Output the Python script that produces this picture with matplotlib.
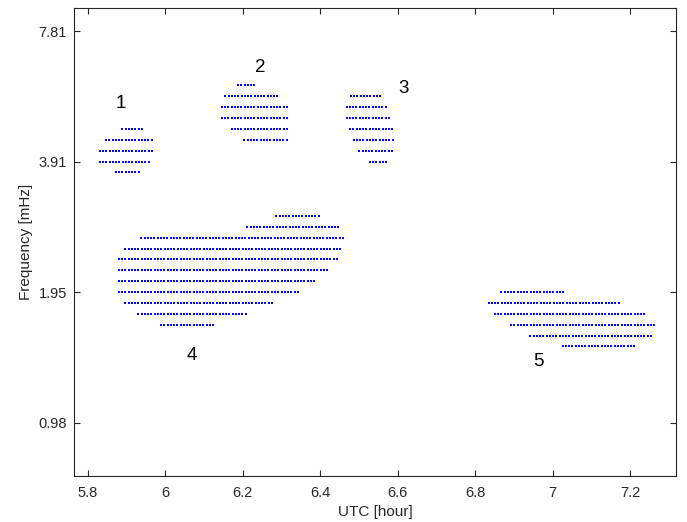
import numpy as np
import matplotlib
matplotlib.use("Agg")
import matplotlib.pyplot as plt
from matplotlib.ticker import FixedLocator, FixedFormatter, NullLocator

plt.rcParams['font.family'] = ['Liberation Sans', 'DejaVu Sans']

# time step between detections [hour]
step = 0.0084

# each cluster: row frequencies [mHz], row start / end times [hour]
c1_freq = [4.6453, 4.3846, 4.1385, 3.9063, 3.6870]
c1_start = [5.889, 5.847, 5.831, 5.831, 5.872]
c1_end = [5.942, 5.961, 5.969, 5.961, 5.928]

c2_freq = [5.8528, 5.5243, 5.2142, 4.9216, 4.6453, 4.3846]
c2_start = [6.188, 6.155, 6.146, 6.146, 6.171, 6.204]
c2_end = [6.227, 6.293, 6.310, 6.318, 6.318, 6.310]

c3_freq = [5.5243, 5.2142, 4.9216, 4.6453, 4.3846, 4.1385, 3.9063]
c3_start = [6.479, 6.468, 6.468, 6.477, 6.486, 6.501, 6.528]
c3_end = [6.558, 6.566, 6.580, 6.589, 6.589, 6.589, 6.573]

c4_freq = [2.9264, 2.7621, 2.6071, 2.4608, 2.3227, 2.1923, 2.0693,
           1.9531, 1.8435, 1.7401, 1.6424]
c4_start = [6.287, 6.212, 5.938, 5.897, 5.880, 5.880, 5.880,
            5.880, 5.897, 5.930, 5.989]
c4_end = [6.392, 6.450, 6.458, 6.450, 6.442, 6.417, 6.383,
          6.343, 6.276, 6.210, 6.126]

c5_freq = [1.9531, 1.8435, 1.7401, 1.6424, 1.5502, 1.4633]
c5_start = [6.868, 6.835, 6.851, 6.893, 6.943, 7.026]
c5_end = [7.031, 7.172, 7.238, 7.263, 7.256, 7.213]

labels = ['1', '2', '3', '4', '5']
label_x = [5.885, 6.244, 6.614, 6.069, 6.963]
label_y = [5.33, 6.45, 5.77, 1.397, 1.347]

xticks = [5.8, 6.0, 6.2, 6.4, 6.6, 6.8, 7.0, 7.2]
xtick_labels = ['5.8', '6', '6.2', '6.4', '6.6', '6.8', '7', '7.2']
yticks = [0.9765625, 1.953125, 3.90625, 7.8125]
ytick_labels = ['0.98', '1.95', '3.91', '7.81']

fig = plt.figure(figsize=(6.87, 5.22), dpi=100)
ax = fig.add_axes([0.1077, 0.0881, 0.8763, 0.8966])

clusters = [(c1_freq, c1_start, c1_end), (c2_freq, c2_start, c2_end),
            (c3_freq, c3_start, c3_end), (c4_freq, c4_start, c4_end),
            (c5_freq, c5_start, c5_end)]
for freqs, starts, ends in clusters:
    for f, t0, t1 in zip(freqs, starts, ends):
        t = np.arange(t0, t1 + step / 2, step)
        ax.plot(t, np.full_like(t, f), linestyle='none', marker='s',
                markersize=1.6, markeredgewidth=0, color='#0000ff')

for s, x, y in zip(labels, label_x, label_y):
    ax.text(x, y, s, fontsize=13.5, ha='center', va='center', color='black')

ax.set_yscale('log', base=2)
ax.set_xlim(5.764, 7.319)
ax.set_ylim(0.735, 8.83)

ax.xaxis.set_major_locator(FixedLocator(xticks))
ax.xaxis.set_major_formatter(FixedFormatter(xtick_labels))
ax.yaxis.set_major_locator(FixedLocator(yticks))
ax.yaxis.set_major_formatter(FixedFormatter(ytick_labels))
ax.yaxis.set_minor_locator(NullLocator())

edge = '#262626'
for sp in ax.spines.values():
    sp.set_color(edge)
    sp.set_linewidth(0.8)
ax.tick_params(which='both', direction='in', top=True, right=True,
               length=4, width=0.8, color=edge, labelsize=10.5,
               labelcolor=edge)
ax.tick_params(axis='x', pad=7)
ax.tick_params(axis='y', pad=5)

ax.set_xlabel('UTC [hour]', fontsize=11, color=edge, labelpad=4)
ax.set_ylabel('Frequency [mHz]', fontsize=11, color=edge, labelpad=4)

fig.savefig('out.png', dpi=100)
